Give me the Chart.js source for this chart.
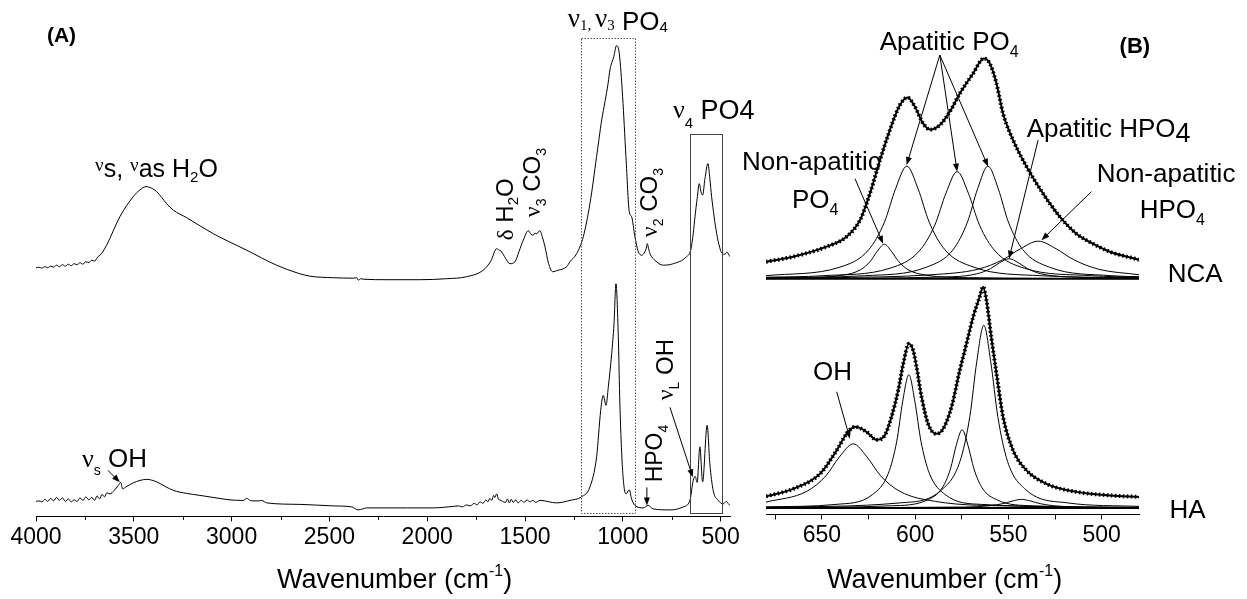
<!DOCTYPE html>
<html>
<head>
<meta charset="utf-8">
<script src="https://cdn.jsdelivr.net/npm/chart.js@4.4.1/dist/chart.umd.min.js"></script>
<style>
  html, body { margin: 0; padding: 0; background: #fff; }
  #wrap { position: relative; width: 1247px; height: 599px; }
  #wrap canvas { position: absolute; left: 0; top: 0; }
</style>
</head>
<body>
<div id="wrap">
  <canvas id="survey" width="1247" height="599"></canvas>
  <canvas id="fit" width="1247" height="599"></canvas>
</div>
<script>
// FTIR survey spectra, [wavenumber cm-1, absorbance a.u.]
const ncaSurvey = [
  [4000,49.7],[3985,49.8],[3970,49.6],[3955,49.9],[3940,49.7],[3925,50.0],[3910,49.8],[3895,50.2],
  [3880,49.9],[3865,50.3],[3850,50.0],[3835,50.4],[3820,50.1],[3805,50.5],[3790,50.3],[3775,50.7],
  [3760,50.4],[3745,50.9],[3730,50.7],[3715,51.2],[3700,51.0],[3688,51.7],[3673,52.2],[3660,52.8],
  [3639,54.2],[3571,59.9],[3503,63.9],[3470,65.2],[3438,65.9],[3410,65.6],[3383,64.9],[3332,62.5],
  [3298,61.2],[3230,59.7],[3094,56.5],[2923,53.2],[2770,50.2],[2660,48.6],[2599,48.0],[2480,47.7],
  [2378,47.6],[2360,47.7],[2352,47.2],[2340,47.5],[2327,47.4],[2200,47.3],[2037,47.3],[1900,47.5],
  [1798,47.9],[1714,49.2],[1675,51.0],[1645,53.5],[1635,53.3],[1620,52.9],[1600,51.6],[1577,50.5],
  [1551,50.9],[1530,53.0],[1509,55.2],[1483,57.1],[1470,56.4],[1458,56.2],[1450,56.6],[1440,56.5],
  [1424,57.1],[1412,55.9],[1398,53.9],[1380,50.6],[1359,48.9],[1330,49.2],[1287,49.9],[1270,50.9],
  [1236,52.5],[1202,55.9],[1168,62.5],[1134,71.9],[1108,79.2],[1091,82.9],[1075,86.6],[1066,89.2],
  [1046,91.9],[1032,94.1],[1018,92.5],[1001,83.9],[984,71.9],[967,60.9],[955,59.9],[938,55.9],
  [921,52.9],[904,52.2],[887,52.9],[880,53.6],[875,54.5],[868,53.5],[861,52.5],[836,51.2],
  [793,50.2],[742,50.5],[674,51.9],[653,53.2],[640,56.5],[631,59.9],[620,63.5],[609,66.5],
  [600,64.8],[592,64.2],[580,67.5],[565,70.5],[555,67.5],[546,63.9],[520,56.5],[505,53.8],
  [495,52.7],[478,52.4],[468,52.8],[452,51.9]
];
const haSurvey = [
  [4000,3.0],[3985,3.1],[3970,2.9],[3955,3.4],[3940,3.0],[3925,3.6],[3910,3.1],[3895,3.8],
  [3880,3.2],[3865,3.7],[3850,3.0],[3835,3.5],[3820,2.9],[3805,3.3],[3790,3.0],[3775,3.7],
  [3760,3.2],[3745,3.9],[3730,3.3],[3715,3.8],[3700,3.2],[3688,4.1],[3675,3.5],[3662,4.4],
  [3650,3.9],[3638,4.7],[3622,4.5],[3600,5.2],[3579,6.2],[3567,6.8],[3557,5.5],[3540,5.9],
  [3503,6.7],[3434,7.4],[3383,6.9],[3340,6.0],[3298,5.2],[3230,4.6],[3162,4.2],[3080,3.7],
  [3008,3.3],[2940,3.2],[2923,3.6],[2905,3.2],[2891,3.1],[2860,3.1],[2846,3.2],[2821,2.7],
  [2650,2.4],[2480,2.1],[2386,1.9],[2353,1.3],[2330,1.5],[2310,1.7],[2100,1.7],[1969,1.7],
  [1867,2.0],[1840,2.1],[1820,1.9],[1800,2.3],[1780,2.1],[1760,2.6],[1745,2.3],[1730,2.9],
  [1715,2.6],[1700,3.3],[1690,2.9],[1680,3.6],[1670,3.2],[1660,4.2],[1654,3.8],[1645,4.5],
  [1635,3.4],[1628,3.3],[1615,3.0],[1600,2.8],[1590,3.5],[1580,2.7],[1570,3.4],[1560,2.8],
  [1548,3.3],[1535,2.7],[1520,3.2],[1505,2.8],[1490,3.3],[1475,2.9],[1460,3.2],[1445,2.8],
  [1424,3.2],[1338,2.7],[1270,3.2],[1211,3.9],[1168,5.9],[1134,11.9],[1113,21.2],[1100,24.2],
  [1086,22.2],[1074,25.9],[1057,32.5],[1045,38.5],[1035,46.5],[1023,35.9],[1015,22.5],[1001,9.2],
  [984,4.5],[967,5.3],[955,3.5],[938,2.2],[896,1.7],[870,2.2],[845,1.5],[759,1.3],
  [691,1.9],[657,3.2],[640,7.2],[630,8.0],[620,6.8],[606,13.9],[592,6.9],[569,18.2],
  [555,10.5],[538,5.2],[512,3.2],[487,2.5],[470,3.0],[462,2.6],[452,2.2]
];

// v4 PO4 region: measured envelopes and fitted bands
const ncaFit = [
  [680,50.5],[665.4,51.5],[647.5,53.5],[636.8,55.5],[629.6,58.8],[624.3,64.1],[618.9,70.8],
  [613.6,76.8],[608.2,81.8],[604.1,83.3],[600.2,81.5],[595.7,78.1],[591.8,76.9],[586.8,77.8],
  [581.4,80.5],[576.1,84.1],[569,88.1],[563.2,91.1],[560,90.1],[556.4,86.1],[552.9,80.1],
  [547.5,74.8],[540.3,69.5],[531.4,64.1],[522.5,59.5],[513.6,56.1],[504.7,54.1],[495.7,52.5],[480,50.9]
];
const ncaNonApPO4 = [[680,47.2],[661.5,47.3],[639,47.8],[629.3,48.9],[624,50.6],[620.3,52.6],[616.5,54.0],
  [612.8,52.6],[609,50.6],[603.8,48.9],[594,47.8],[571.5,47.3],[480,47.1]];
const ncaApPO4a = [[680,47.7],[640.5,49.4],[624.9,52.9],[616.5,58.4],[610.5,65.1],[604.5,69.6],
  [598.5,65.1],[592.5,58.4],[584.1,52.9],[568.5,49.4],[532.5,47.7],[480,47.3]];
const ncaApPO4b = [[680,47.4],[649.5,47.7],[613.5,49.2],[597.9,52.6],[589.5,57.8],[583.5,64.2],[577.5,68.5],
  [571.5,64.2],[565.5,57.8],[557.1,52.6],[541.5,49.2],[505.5,47.7],[480,47.4]];
const ncaApPO4c = [[680,47.3],[627,47.7],[594,49.4],[579.7,52.9],[572,58.4],[566.5,65.1],[561,69.6],
  [555.5,65.1],[550,58.4],[542.3,52.9],[528,49.4],[495,47.7],[480,47.5]];
const ncaApHPO4 = [[680,47.1],[579.7,47.5],[566.7,48.1],[559.7,49.1],[554.7,50.3],[549.7,51.1],
  [544.7,50.3],[539.7,49.1],[532.7,48.1],[519.7,47.5],[480,47.2]];
const ncaNonApHPO4 = [[680,47.2],[648,47.3],[591,47.9],[566.3,49.0],[553,50.9],[543.5,53.1],[534,54.6],
  [524.5,53.1],[515,50.9],[501.7,49.0],[480,47.9]];
const ncaBaseline = [[680,47.1],[480,47.1]];

const haFit = [
  [680,3.6],[665.4,5.1],[651.1,8.1],[642.1,12.8],[636.8,16.1],[632.3,17.5],[626.1,16.5],[620.7,14.9],
  [616.3,15.8],[612.7,19.5],[609.1,24.8],[606.4,30.1],[603.4,34.1],[601.1,32.8],[599.3,29.5],[596.6,23.5],
  [593.1,18.1],[588.6,16.1],[585,17.1],[580.5,21.5],[576.1,28.8],[572.5,34.1],[568.9,39.5],[565.4,43.5],
  [563.6,45.5],[561.8,42.8],[559.1,35.1],[556.4,28.1],[552.9,19.5],[547.5,12.8],[540.3,8.8],[529.6,6.1],
  [513.6,4.5],[495.7,3.8],[480,3.5]
];
const haOH = [[680,2.45],[658.2,4.6],[647.9,7.7],[640.6,11.5],[633.2,14.1],[625.9,11.5],[618.5,7.7],
  [608.2,4.6],[589.2,2.6],[545.2,1.65],[480,1.42]];
const haPO4a = [[680,1.5],[642.4,2.0],[622.9,3.96],[614.4,8.2],[609.9,14.6],[606.7,22.6],[603.4,27.9],
  [600.2,22.6],[596.9,14.6],[592.4,8.2],[583.9,3.96],[564.4,2.0],[480,1.37]];
const haPO4b = [[680,1.36],[612.6,1.72],[593.7,2.86],[585.5,5.3],[581.1,9.1],[578,13.8],[574.8,16.9],
  [571.7,13.8],[568.5,9.1],[564.1,5.3],[555.9,2.86],[537,1.72],[480,1.37]];
const haPO4c = [[680,1.45],[608.2,2.3],[585.7,4.95],[576,10.6],[570.7,19.55],[567,30.5],[563.2,37.8],
  [559.5,30.5],[555.7,19.55],[550.5,10.6],[540.7,4.95],[518.2,2.3],[480,1.6]];
const haMinor = [[680,1.32],[573,1.47],[560,1.74],[553,2.15],[548,2.66],[543,3.0],[538,2.66],
  [533,2.15],[526,1.74],[513,1.47],[480,1.34]];
const haBaseline = [[680,1.3],[480,1.3]];

// tick positions and the ones that carry a label
const surveyTicks = [4000, 3750, 3500, 3250, 3000, 2750, 2500, 2250, 2000, 1750, 1500, 1250, 1000, 750, 500];
const surveyLabels = [4000, 3500, 3000, 2500, 2000, 1500, 1000, 500];
const fitTicks = [675, 650, 625, 600, 575, 550, 525, 500];
const fitLabels = [650, 600, 550, 500];

const SANS = '"Liberation Sans", Arial, sans-serif';
const SERIF = '"Liberation Serif", "Times New Roman", serif';
const f = (size, fam, bold) => (bold ? 'bold ' : '') + size + 'px ' + fam;

function drawRuns(ctx, x, y, runs, angle) {
  ctx.save();
  ctx.translate(x, y);
  if (angle) ctx.rotate(angle);
  ctx.textAlign = 'left';
  ctx.textBaseline = 'alphabetic';
  let cx = 0;
  runs.forEach(([text, font, dy]) => {
    ctx.font = font;
    ctx.fillText(text, cx, dy || 0);
    cx += ctx.measureText(text).width;
  });
  ctx.restore();
}

function drawArrow(ctx, x1, y1, x2, y2) {
  const a = Math.atan2(y2 - y1, x2 - x1);
  const len = 8, half = 3;
  ctx.beginPath();
  ctx.moveTo(x1, y1);
  ctx.lineTo(x2 - Math.cos(a) * len * 0.7, y2 - Math.sin(a) * len * 0.7);
  ctx.stroke();
  ctx.beginPath();
  ctx.moveTo(x2, y2);
  ctx.lineTo(x2 - len * Math.cos(a) + half * Math.sin(a), y2 - len * Math.sin(a) - half * Math.cos(a));
  ctx.lineTo(x2 - len * Math.cos(a) - half * Math.sin(a), y2 - len * Math.sin(a) + half * Math.cos(a));
  ctx.closePath();
  ctx.fill();
}

// labels, arrows and boxes are placed in data units
function notes(cfg) {
  return {
    id: 'notes',
    afterDatasetsDraw(chart) {
      const ctx = chart.ctx;
      const xs = chart.scales.x, ys = chart.scales.y;
      const px = (p) => [xs.getPixelForValue(p[0]), ys.getPixelForValue(p[1])];
      ctx.save();
      ctx.fillStyle = '#000';
      ctx.strokeStyle = '#000';
      // short minor ticks
      ctx.lineWidth = 1;
      (cfg.minorTicks || []).forEach((v) => {
        const x = Math.round(xs.getPixelForValue(v)) + 0.5;
        ctx.beginPath();
        ctx.moveTo(x, chart.chartArea.bottom);
        ctx.lineTo(x, chart.chartArea.bottom + 3.5);
        ctx.stroke();
      });
      (cfg.boxes || []).forEach((b) => {
        const [l, t] = px([b.from, b.top]);
        const [r, btm] = px([b.to, b.bottom]);
        ctx.save();
        ctx.strokeStyle = b.color;
        ctx.lineWidth = 1;
        ctx.setLineDash(b.dash);
        ctx.strokeRect(Math.round(l) + 0.5, Math.round(t) + 0.5, Math.round(r - l), Math.round(btm - t));
        ctx.restore();
      });
      (cfg.arrows || []).forEach(([a, b]) => {
        const p1 = px(a), p2 = px(b);
        drawArrow(ctx, p1[0], p1[1], p2[0], p2[1]);
      });
      (cfg.labels || []).forEach((lb) => {
        const [x, y] = px(lb.at);
        drawRuns(ctx, x, y, lb.runs, lb.up ? -Math.PI / 2 : 0);
      });
      if (cfg.title) drawRuns(ctx, cfg.title.x, cfg.title.y, cfg.title.runs);
      ctx.restore();
    }
  };
}

const titleRuns = [['Wavenumber (cm', f(27, SANS)], ['-1', f(16, SANS), -12], [')', f(27, SANS)]];

const surveyNotes = notes({
  minorTicks: surveyTicks.filter((v) => !surveyLabels.includes(v)),
  boxes: [
    { from: 1214, to: 938, top: 95.7, bottom: 0.7, color: '#555', dash: [1.5, 1.5] },
    { from: 657, to: 495, top: 76.5, bottom: 0.7, color: '#444', dash: [] }
  ],
  arrows: [
    [[3632, 9.2], [3571, 6.8]],
    [[877, 5.8], [877, 2.2]],
    [[759, 21.8], [642, 7.8]]
  ],
  labels: [
    { at: [3944, 94.8], runs: [['(A)', f(21, SANS, true)]] },
    { at: [3698, 67.8], runs: [['ν', f(19, SERIF), -6], ['s, ', f(25, SANS)], ['ν', f(19, SERIF), -6],
      ['as H', f(25, SANS)], ['2', f(15, SANS), 5], ['O', f(25, SANS)]] },
    { at: [1281, 97.2], runs: [['ν', f(27, SERIF), -3], ['1', f(15, SERIF)], [', ', f(15, SERIF)],
      ['ν', f(27, SERIF), -3], ['3', f(15, SERIF)], [' PO', f(26, SANS)], ['4', f(15, SANS), 2]] },
    { at: [744, 79.4], runs: [['ν', f(26, SERIF), -1], ['4', f(15, SANS), 9], [' PO4', f(27, SANS)]] },
    { at: [3765, 9.8], runs: [['ν', f(26, SERIF)], ['s', f(14, SANS), 8], [' OH', f(26, SANS)]] },
    { up: true, at: [1562, 55.2], runs: [['δ', f(23, SERIF)], [' H', f(24, SANS)], ['2', f(15, SANS), 5], ['O', f(24, SANS)]] },
    { up: true, at: [1424, 59.8], runs: [['ν', f(24, SERIF)], ['3', f(14, SANS), 6], [' CO', f(24, SANS)], ['3', f(14, SANS), 6]] },
    { up: true, at: [826, 55.8], runs: [['ν', f(24, SERIF)], ['2', f(14, SANS), 6], [' CO', f(24, SANS)], ['3', f(14, SANS), 6]] },
    { up: true, at: [800, 6.8], runs: [['HPO', f(23, SANS)], ['4', f(14, SANS), 6]] },
    { up: true, at: [744, 23.2], runs: [['ν', f(24, SERIF)], ['L', f(14, SANS), 6], [' OH', f(24, SANS)]] }
  ],
  title: { x: 277, y: 588, runs: titleRuns }
});

const fitNotes = notes({
  arrows: [
    [[586.8, 91.8], [604.6, 69.8]],
    [[586.8, 91.8], [577.5, 68.5]],
    [[586.8, 91.8], [560.9, 69.5]],
    [[534.1, 74.8], [549.7, 51.1]],
    [[632.3, 67.1], [617.2, 54.1]],
    [[505.5, 64.5], [532.3, 54.8]],
    [[642.1, 24.5], [635, 15.1]]
  ],
  labels: [
    { at: [490.4, 92.2], runs: [['(B)', f(22, SANS, true)]] },
    { at: [619, 92.8], runs: [['Apatitic PO', f(26, SANS)], ['4', f(16, SANS), 7]] },
    { at: [540.2, 75.4], runs: [['Apatitic HPO', f(26, SANS)], ['4', f(27, SANS), 5]] },
    { at: [692.9, 68.8], runs: [['Non-apatitic', f(26, SANS)]] },
    { at: [666.1, 61.2], runs: [['PO', f(26, SANS)], ['4', f(16, SANS), 7]] },
    { at: [502.7, 66.4], runs: [['Non-apatitic', f(26, SANS)]] },
    { at: [479.6, 59.2], runs: [['HPO', f(26, SANS)], ['4', f(16, SANS), 7]] },
    { at: [464.6, 46.4], runs: [['NCA', f(26, SANS)]] },
    { at: [463.6, -0.8], runs: [['HA', f(26, SANS)]] },
    { at: [654.8, 26.8], runs: [['OH', f(26, SANS)]] }
  ],
  title: { x: 827, y: 588, runs: titleRuns }
});

function line(data, width, extra) {
  return Object.assign({
    data: data.map(([x, y]) => ({ x, y })),
    borderColor: '#000',
    borderWidth: width,
    pointRadius: 0,
    fill: false,
    cubicInterpolationMode: 'monotone'
  }, extra || {});
}

// the A axis draws its own short minor ticks, so those are hidden here
function xAxis(min, max, ticks, labels, hideMinor) {
  return {
    type: 'linear', reverse: true, min, max,
    afterBuildTicks: (scale) => { scale.ticks = ticks.map((v) => ({ value: v })); },
    border: { display: true, color: '#000', width: 1 },
    grid: {
      display: true, drawOnChartArea: false, drawTicks: true, tickLength: 5,
      color: '#000',
      tickColor: (c) => (hideMinor && c.tick && !labels.includes(c.tick.value) ? 'rgba(0,0,0,0)' : '#000')
    },
    ticks: {
      autoSkip: false, maxRotation: 0, padding: 2,
      color: '#000', font: { family: SANS, size: 23 },
      callback: (v) => (labels.includes(v) ? String(v) : '')
    }
  };
}

const common = {
  responsive: false,
  animation: false,
  devicePixelRatio: 1,
  plugins: { legend: { display: false }, tooltip: { enabled: false } }
};

new Chart(document.getElementById('survey'), {
  type: 'line',
  data: { datasets: [line(ncaSurvey, 1), line(haSurvey, 1)] },
  options: Object.assign({}, common, {
    layout: { padding: { left: 36, right: 517, top: 16, bottom: 46 } },
    scales: { x: xAxis(452, 4000, surveyTicks, surveyLabels, true), y: { display: false, min: 0, max: 100 } }
  }),
  plugins: [surveyNotes]
});

const envelope = (data) => [
  line(data, 2),
  line(data, 4, { borderDash: [1.6, 2.4] })
];

new Chart(document.getElementById('fit'), {
  type: 'line',
  data: {
    datasets: [
      ...envelope(ncaFit), ...envelope(haFit),
      line(ncaBaseline, 2), line(haBaseline, 2),
      line(ncaNonApPO4, 1), line(ncaApPO4a, 1), line(ncaApPO4b, 1), line(ncaApPO4c, 1),
      line(ncaApHPO4, 1), line(ncaNonApHPO4, 1),
      line(haOH, 1), line(haPO4a, 1), line(haPO4b, 1), line(haPO4c, 1), line(haMinor, 1)
    ]
  },
  options: Object.assign({}, common, {
    layout: { padding: { left: 766, right: 108, top: 14, bottom: 48 } },
    scales: { x: xAxis(480, 680, fitTicks, fitLabels, false), y: { display: false, min: 0, max: 100 } }
  }),
  plugins: [fitNotes]
});
</script>
</body>
</html>
